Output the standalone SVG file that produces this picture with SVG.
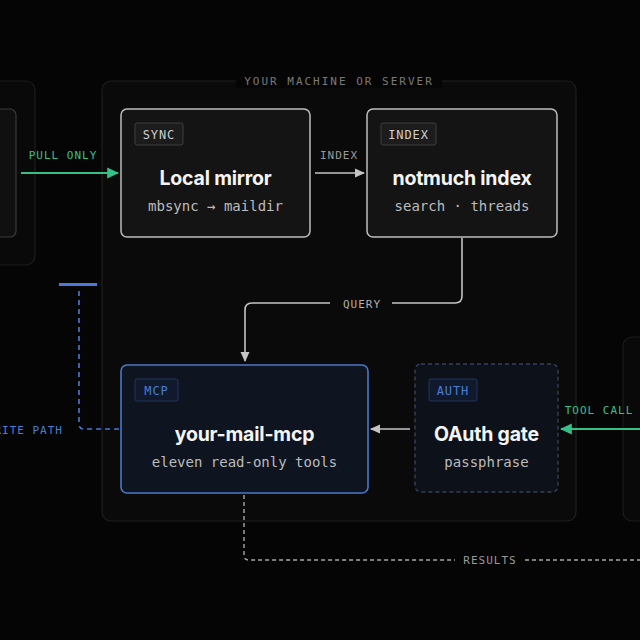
<svg xmlns="http://www.w3.org/2000/svg" width="640" height="640" viewBox="0 0 640 640">
<defs>
<style>
.mono{font-family:"DejaVu Sans Mono","Liberation Mono",monospace;}
.title{font-family:Inter,"Liberation Sans",sans-serif;font-weight:700;font-size:19.5px;fill:#f4f4f4;text-anchor:middle;letter-spacing:-0.2px;}
.sub{font-family:"DejaVu Sans Mono","Liberation Mono",monospace;font-size:14px;fill:#bcbcbc;text-anchor:middle;}
.tag{font-family:"DejaVu Sans Mono","Liberation Mono",monospace;font-size:12px;letter-spacing:0.9px;text-anchor:middle;}
.lbl{font-family:"DejaVu Sans Mono","Liberation Mono",monospace;font-size:11px;letter-spacing:1px;text-anchor:middle;}
.node{fill:#141414;stroke:#bdbdbd;stroke-width:1.5;}
.gray{stroke:#c4c4c4;stroke-width:1.6;fill:none;}
.green{stroke:#35c08a;stroke-width:2;fill:none;}
</style>
<marker id="ag" viewBox="0 0 10 10" refX="9" refY="5" markerWidth="10" markerHeight="10" markerUnits="userSpaceOnUse" orient="auto">
<path d="M0,0.5 L10,5 L0,9.5 Z" fill="#c4c4c4"/>
</marker>
<marker id="agr" viewBox="0 0 10 10" refX="9" refY="5" markerWidth="12" markerHeight="12" markerUnits="userSpaceOnUse" orient="auto">
<path d="M0,0.5 L10,5 L0,9.5 Z" fill="#35c08a"/>
</marker>
</defs>
<rect width="640" height="640" fill="#050505"/>

<g id="left-container">
<rect x="-200" y="81" width="235" height="184" rx="9" fill="#090909" stroke="#1d1d1d" stroke-width="1.2"/>
<rect x="-180" y="109" width="196" height="128" rx="6" fill="#101010" stroke="#3a3a3a" stroke-width="1.2"/>
</g>

<g id="right-container">
<rect x="623" y="337" width="200" height="184" rx="9" fill="#090909" stroke="#1d1d1d" stroke-width="1.2"/>
</g>

<g id="machine">
<rect x="102" y="81" width="474" height="440" rx="9" fill="#0a0a0a" stroke="#1f1f1f" stroke-width="1.2"/>
<rect x="236" y="74" width="206" height="14" fill="#050505"/>
<text x="339" y="85" class="mono" font-size="11" letter-spacing="2" fill="#7a7a7a" text-anchor="middle">YOUR MACHINE OR SERVER</text>
</g>

<g id="connectors">
<line x1="21" y1="173" x2="118" y2="173" class="green" marker-end="url(#agr)"/>
<text x="63" y="159" class="lbl" fill="#35c08a">PULL ONLY</text>
<line x1="315" y1="173" x2="364" y2="173" class="gray" marker-end="url(#ag)"/>
<text x="339" y="159" class="lbl" fill="#9a9a9a">INDEX</text>
<path d="M462,238 V296 Q462,303 455,303 H392" class="gray"/>
<path d="M330,303 H252 Q245,303 245,310 V361" class="gray" marker-end="url(#ag)"/>
<text x="362" y="308" class="lbl" fill="#b0b0b0">QUERY</text>
<line x1="410" y1="429" x2="371" y2="429" class="gray" marker-end="url(#ag)"/>
<line x1="640" y1="429" x2="561" y2="429" class="green" marker-end="url(#agr)"/>
<text x="599" y="414" class="lbl" fill="#35c08a">TOOL CALL</text>
<line x1="59" y1="284.5" x2="97" y2="284.5" stroke="#4a7ad8" stroke-width="3"/>
<path d="M79,291 V424 Q79,429 84,429 H119" fill="none" stroke="#4a7ad8" stroke-width="1.6" stroke-dasharray="5 4"/>
<text x="63" y="434" class="lbl" fill="#4a7fd6" style="text-anchor:end">WRITE PATH</text>
<path d="M244,495 V555 Q244,560 249,560 H455" fill="none" stroke="#a8a8a8" stroke-width="1.4" stroke-dasharray="4 3"/>
<path d="M525,560 H640" fill="none" stroke="#a8a8a8" stroke-width="1.4" stroke-dasharray="4 3"/>
<text x="490" y="564" class="lbl" fill="#9a9a9a">RESULTS</text>
</g>

<g id="local-mirror">
<rect x="121" y="109" width="189" height="128" rx="6" class="node"/>
<rect x="135" y="123" width="48" height="22" rx="2" fill="#1c1c1c" stroke="#3e3e3e" stroke-width="1"/>
<text x="159" y="138.5" class="tag" fill="#cfcfcf">SYNC</text>
<text x="215.5" y="185" class="title">Local mirror</text>
<text x="215.5" y="211" class="sub">mbsync → maildir</text>
</g>

<g id="notmuch-index">
<rect x="367" y="109" width="190" height="128" rx="6" class="node"/>
<rect x="381" y="123" width="55" height="22" rx="2" fill="#1c1c1c" stroke="#3e3e3e" stroke-width="1"/>
<text x="408.5" y="138.5" class="tag" fill="#cfcfcf">INDEX</text>
<text x="462" y="185" class="title">notmuch index</text>
<text x="462" y="211" class="sub">search · threads</text>
</g>

<g id="your-mail-mcp">
<rect x="121" y="365" width="247" height="128" rx="6" fill="#0e1420" stroke="#4a78c8" stroke-width="1.6"/>
<rect x="135" y="379" width="43" height="22" rx="2" fill="#101a2c" stroke="#23355a" stroke-width="1"/>
<text x="156.5" y="394.5" class="tag" fill="#4a7fd6">MCP</text>
<text x="244.5" y="441" class="title">your-mail-mcp</text>
<text x="244.5" y="467" class="sub">eleven read-only tools</text>
</g>

<g id="oauth-gate">
<rect x="415" y="364" width="143" height="128" rx="6" fill="#0d111a" stroke="#34405a" stroke-width="1.4" stroke-dasharray="4 3"/>
<rect x="429" y="379" width="48" height="22" rx="2" fill="#101a2c" stroke="#23355a" stroke-width="1"/>
<text x="453" y="394.5" class="tag" fill="#4a7fd6">AUTH</text>
<text x="486.5" y="441" class="title">OAuth gate</text>
<text x="486.5" y="467" class="sub">passphrase</text>
</g>
</svg>
